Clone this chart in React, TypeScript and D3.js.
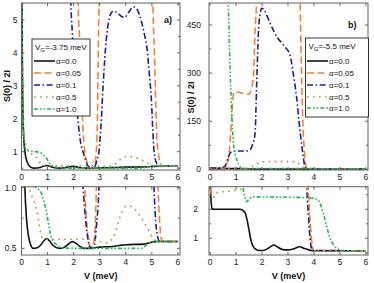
import React from 'react';
import * as d3 from 'd3';

type Pt = [number, number];

// ---------- data: panel a (V_G = -3.75 meV) ----------
const A_ALPHA_00: Pt[] = [[0,12],[0.03,4],[0.06,2.0],[0.09,1.35],[0.13,1.0],[0.19,0.75],[0.27,0.6],[0.35,0.53],[0.45,0.5],[0.6,0.505],[0.75,0.53],[0.87,0.565],[0.97,0.58],[1.08,0.56],[1.2,0.525],[1.35,0.505],[1.5,0.5],[1.65,0.51],[1.8,0.535],[1.95,0.555],[2.1,0.54],[2.25,0.515],[2.4,0.5],[2.6,0.5],[2.8,0.505],[3.0,0.51],[3.5,0.515],[3.8,0.525],[4.0,0.53],[4.7,0.535],[4.9,0.545],[5.05,0.553],[5.2,0.556],[6,0.556]];
const A_ALPHA_005: Pt[] = [[0,12],[2.1,10],[2.17,5.6],[2.23,4.4],[2.3,3.0],[2.35,1.8],[2.39,1.3],[2.43,1.0],[2.49,0.75],[2.55,0.6],[2.62,0.52],[2.72,0.51],[2.8,0.6],[2.86,0.9],[2.9,1.5],[2.93,3.0],[2.96,4.8],[3.0,6.5],[3.05,12],[4.98,12],[5.04,5.6],[5.1,4.0],[5.15,2.5],[5.2,1.3],[5.24,1.0],[5.3,0.72],[5.36,0.58],[5.45,0.557],[6,0.556]];
const A_ALPHA_01: Pt[] = [[0,12],[1.8,10],[1.89,5.6],[1.95,4.6],[2.02,3.6],[2.1,2.6],[2.2,1.7],[2.3,1.15],[2.36,1.0],[2.45,0.76],[2.53,0.6],[2.62,0.51],[2.72,0.5],[2.8,0.53],[2.88,0.7],[2.97,1.0],[3.05,1.8],[3.13,3.0],[3.22,4.1],[3.33,4.9],[3.43,5.2],[3.52,5.27],[3.7,5.2],[3.85,5.1],[3.96,5.08],[4.1,5.22],[4.3,5.4],[4.45,5.3],[4.6,4.95],[4.72,4.55],[4.82,4.1],[4.9,3.4],[4.98,2.6],[5.04,1.6],[5.08,1.05],[5.13,0.78],[5.2,0.62],[5.27,0.565],[5.35,0.556],[6,0.556]];
const A_ALPHA_05: Pt[] = [[0,8],[0.05,2.5],[0.1,1.5],[0.19,1.15],[0.3,1.0],[0.45,0.9],[0.54,0.85],[0.62,0.78],[0.7,0.66],[0.78,0.59],[0.9,0.575],[2.4,0.575],[2.8,0.57],[3.1,0.55],[3.3,0.545],[3.45,0.57],[3.6,0.63],[3.72,0.72],[3.85,0.8],[4.0,0.845],[4.15,0.85],[4.35,0.82],[4.6,0.75],[4.85,0.66],[5.05,0.58],[5.2,0.557],[6,0.556]];
const A_ALPHA_10: Pt[] = [[0,12],[0.03,4],[0.07,1.8],[0.12,1.2],[0.18,1.05],[0.3,1.02],[0.5,1.005],[0.68,0.98],[0.77,0.95],[0.84,0.9],[0.97,0.79],[1.03,0.71],[1.1,0.63],[1.16,0.58],[1.25,0.55],[1.35,0.53],[1.54,0.505],[2.0,0.5],[4.6,0.5],[4.7,0.51],[4.8,0.53],[4.9,0.545],[5.0,0.555],[6,0.556]];

// ---------- data: panel b (V_G = -5.5 meV) ----------
const B_ALPHA_00: Pt[] = [[0,3.2],[0.04,2.3],[0.08,2.02],[0.15,2.0],[1.15,2.0],[1.25,1.97],[1.35,1.88],[1.43,1.62],[1.5,1.29],[1.57,0.95],[1.64,0.75],[1.75,0.63],[1.9,0.58],[2.05,0.58],[2.25,0.66],[2.45,0.77],[2.6,0.7],[2.8,0.61],[3.0,0.6],[3.2,0.63],[3.45,0.71],[3.6,0.66],[3.8,0.6],[4.0,0.57],[6,0.57]];
const B_ALPHA_005: Pt[] = [[0,2.7],[0.05,2.55],[0.1,2.8],[0.2,3.5],[0.5,4],[0.6,5],[0.64,8],[0.7,30],[0.77,81],[0.84,170],[0.9,235],[0.96,242],[1.2,238],[1.5,234],[1.6,255],[1.67,289],[1.73,425],[1.8,540],[1.85,700],[3.4,700],[3.46,540],[3.53,270],[3.59,113],[3.65,39],[3.7,8],[3.75,3.5],[3.8,2.4],[3.85,1.6],[3.9,1.0],[3.95,0.65],[4.0,0.58],[6,0.57]];
const B_ALPHA_01: Pt[] = [[0,4],[0.4,4.5],[0.5,6],[0.58,10],[0.65,25],[0.72,42],[0.83,55],[1.0,57],[1.4,57],[1.55,62],[1.65,80],[1.73,110],[1.8,278],[1.86,424],[1.93,485],[1.99,502],[2.1,495],[2.18,481],[2.4,440],[2.57,413],[2.75,395],[2.88,382],[3.08,356],[3.2,300],[3.33,226],[3.46,122],[3.59,39],[3.65,8],[3.7,3.5],[3.75,2.3],[3.8,1.6],[3.85,1.0],[3.9,0.65],[3.95,0.58],[6,0.57]];
const B_ALPHA_05: Pt[] = [[0,2.75],[0.05,2.5],[0.12,2.38],[0.2,2.55],[0.4,2.6],[0.7,2.62],[1.0,2.66],[1.3,2.72],[1.45,3.5],[1.6,8],[1.8,17],[2.0,23],[2.3,24],[3.3,24],[3.45,15],[3.6,6],[3.7,3.2],[3.78,2.4],[3.85,1.6],[3.9,1.0],[3.95,0.65],[4.05,0.58],[6,0.57]];
const B_ALPHA_10: Pt[] = [[0,600],[0.66,600],[0.7,520],[0.77,320],[0.83,185],[0.9,81],[0.97,45],[1.03,29],[1.1,15],[1.15,8],[1.22,4],[1.28,2.72],[1.35,2.4],[1.41,2.26],[1.5,2.35],[1.67,2.43],[2.5,2.42],[3.5,2.41],[4.0,2.38],[4.17,2.3],[4.28,2.1],[4.36,1.86],[4.48,1.45],[4.6,1.05],[4.75,0.78],[4.87,0.66],[5.0,0.6],[5.2,0.57],[6,0.57]];

// ---------- labels / ticks ----------
const ALPHA_LABELS = ['α=0.0', 'α=0.05', 'α=0.1', 'α=0.5', 'α=1.0'];
const X_TICKS = [0, 1, 2, 3, 4, 5, 6];
const A_TOP_TICKS = [1, 2, 3, 4, 5];
const A_TOP_MINOR = [0.5, 1.5, 2.5, 3.5, 4.5, 5.5];
const A_BOT_TICKS = [0.5, 1.0];
const A_BOT_MINOR = [0.75];
const B_TOP_TICKS = [0, 150, 300, 450];
const B_TOP_MINOR = [75, 225, 375];
const B_BOT_TICKS = [1, 2];
const B_BOT_MINOR = [0.5, 1.5, 2.5];

const STYLES = [
  { color: '#111111', dash: '' },
  { color: '#f5822f', dash: '7,3.5' },
  { color: '#1f1f8f', dash: '6,2.5,1.6,2.5' },
  { color: '#a89a3a', dash: '1.6,4.4' },
  { color: '#1fb84a', dash: '4,2,1.6,2,1.6,2' },
];

const FONT = 'Liberation Sans, Arial, Helvetica, sans-serif';

function Panel(props: any) {
  const { id, x0, x1, y0, y1, xDom, yDom, series, yTicks, yMinor, fmt, yLabelEnd } = props;
  const xs = d3.scaleLinear().domain(xDom).range([x0, x1]);
  const ys = d3.scaleLinear().domain(yDom).range([y1, y0]);
  const line = d3.line<Pt>().x(d => xs(d[0])).y(d => ys(d[1])).curve(d3.curveMonotoneX);
  const frame = '#606060';
  return (
    <g>
      <defs>
        <clipPath id={id}>
          <rect x={x0} y={y0} width={x1 - x0} height={y1 - y0} />
        </clipPath>
      </defs>
      <g clipPath={`url(#${id})`}>
        {series.map((s: Pt[], i: number) => (
          <path key={i} d={line(s) || ''} fill="none" stroke={STYLES[i].color}
            strokeWidth={1.6} strokeDasharray={STYLES[i].dash} />
        ))}
      </g>
      <rect x={x0} y={y0} width={x1 - x0} height={y1 - y0} fill="none" stroke={frame} strokeWidth={1} />
      {X_TICKS.map(t => (
        <g key={'x' + t}>
          <line x1={xs(t)} x2={xs(t)} y1={y1} y2={y1 - 3} stroke={frame} />
          <line x1={xs(t)} x2={xs(t)} y1={y0} y2={y0 + 3} stroke={frame} />
          <text x={xs(t)} y={y1 + 10} textAnchor="middle" fontSize={8.5} fontFamily={FONT} fill="#222">{t}</text>
        </g>
      ))}
      {yTicks.map((t: number) => (
        <g key={'y' + t}>
          <line x1={x0} x2={x0 + 3} y1={ys(t)} y2={ys(t)} stroke={frame} />
          <line x1={x1} x2={x1 - 3} y1={ys(t)} y2={ys(t)} stroke={frame} />
          <text x={yLabelEnd} y={ys(t) + 3} textAnchor="end" fontSize={8.5} fontFamily={FONT} fill="#222">{fmt(t)}</text>
        </g>
      ))}
      {yMinor.map((t: number) => (
        <g key={'m' + t}>
          <line x1={x0} x2={x0 + 2} y1={ys(t)} y2={ys(t)} stroke={frame} />
          <line x1={x1} x2={x1 - 2} y1={ys(t)} y2={ys(t)} stroke={frame} />
        </g>
      ))}
    </g>
  );
}

function Legend(props: any) {
  const { x, y, w, h, vg, lineX0, lineX1, textX, rows } = props;
  return (
    <g>
      <rect x={x} y={y} width={w} height={h} fill="#fff" stroke="#222" strokeWidth={0.9} />
      <text x={x + 3} y={y + 11} fontSize={8} fontFamily={FONT} fill="#111">
        V<tspan dy={2} fontSize={6}>G</tspan><tspan dy={-2}>{vg}</tspan>
      </text>
      {ALPHA_LABELS.map((lab, i) => (
        <g key={lab}>
          <line x1={lineX0} x2={lineX1} y1={rows[i]} y2={rows[i]} stroke={STYLES[i].color}
            strokeWidth={1.6} strokeDasharray={STYLES[i].dash} />
          <text x={textX} y={rows[i] + 3} fontSize={8} fontFamily={FONT} fill="#111">{lab}</text>
        </g>
      ))}
    </g>
  );
}

export default function App() {
  const seriesA = [A_ALPHA_00, A_ALPHA_005, A_ALPHA_01, A_ALPHA_05, A_ALPHA_10];
  const seriesB = [B_ALPHA_00, B_ALPHA_005, B_ALPHA_01, B_ALPHA_05, B_ALPHA_10];
  const f0 = (t: number) => String(t);
  const f1 = (t: number) => t.toFixed(1);
  return (
    <svg width={374} height={283} style={{ position: 'absolute', left: 0, top: 0, background: '#fff' }}>
      <Panel id="ca1" x0={21.5} x1={180} y0={3} y1={170} xDom={[0, 6.08]} yDom={[0.444, 5.516]}
        series={seriesA} yTicks={A_TOP_TICKS} yMinor={A_TOP_MINOR} fmt={f0} yLabelEnd={17.5} />
      <Panel id="ca2" x0={21.5} x1={180} y0={186.7} y1={255} xDom={[0, 6.08]} yDom={[0.445, 1.008]}
        series={seriesA} yTicks={A_BOT_TICKS} yMinor={A_BOT_MINOR} fmt={f1} yLabelEnd={16.5} />
      <Panel id="cb1" x0={209} x1={368} y0={3} y1={170} xDom={[-0.04, 6.08]} yDom={[-2.2, 518.6]}
        series={seriesB} yTicks={B_TOP_TICKS} yMinor={B_TOP_MINOR} fmt={f0} yLabelEnd={201} />
      <Panel id="cb2" x0={209} x1={368} y0={186.7} y1={255} xDom={[-0.04, 6.08]} yDom={[0.424, 2.78]}
        series={seriesB} yTicks={B_BOT_TICKS} yMinor={B_BOT_MINOR} fmt={f0} yLabelEnd={198} />

      <Legend x={32} y={39} w={58} h={77} vg="=-3.75 meV" lineX0={34} lineX1={55} textX={56}
        rows={[61, 73, 85, 97, 109]} />
      <Legend x={305.5} y={38} w={63} h={79} vg="=-5.5 meV" lineX0={307} lineX1={328} textX={329}
        rows={[61, 73, 85, 97, 108]} />

      <text x={164} y={23} fontSize={9} fontWeight="bold" fontFamily={FONT} fill="#111">a)</text>
      <text x={348} y={28} fontSize={9} fontWeight="bold" fontFamily={FONT} fill="#111">b)</text>

      <text x={100.7} y={279} textAnchor="middle" fontSize={9} fontWeight="bold" fontFamily={FONT} fill="#111">V (meV)</text>
      <text x={288.5} y={279} textAnchor="middle" fontSize={9} fontWeight="bold" fontFamily={FONT} fill="#111">V (meV)</text>

      <text transform="translate(9.5,86) rotate(-90)" textAnchor="middle" fontSize={9} fontWeight="bold" fontFamily={FONT} fill="#111">S(0) / 2I</text>
      <text transform="translate(193.5,97.5) rotate(-90)" textAnchor="middle" fontSize={9} fontWeight="bold" fontFamily={FONT} fill="#111">S(0) / 2I</text>
    </svg>
  );
}
